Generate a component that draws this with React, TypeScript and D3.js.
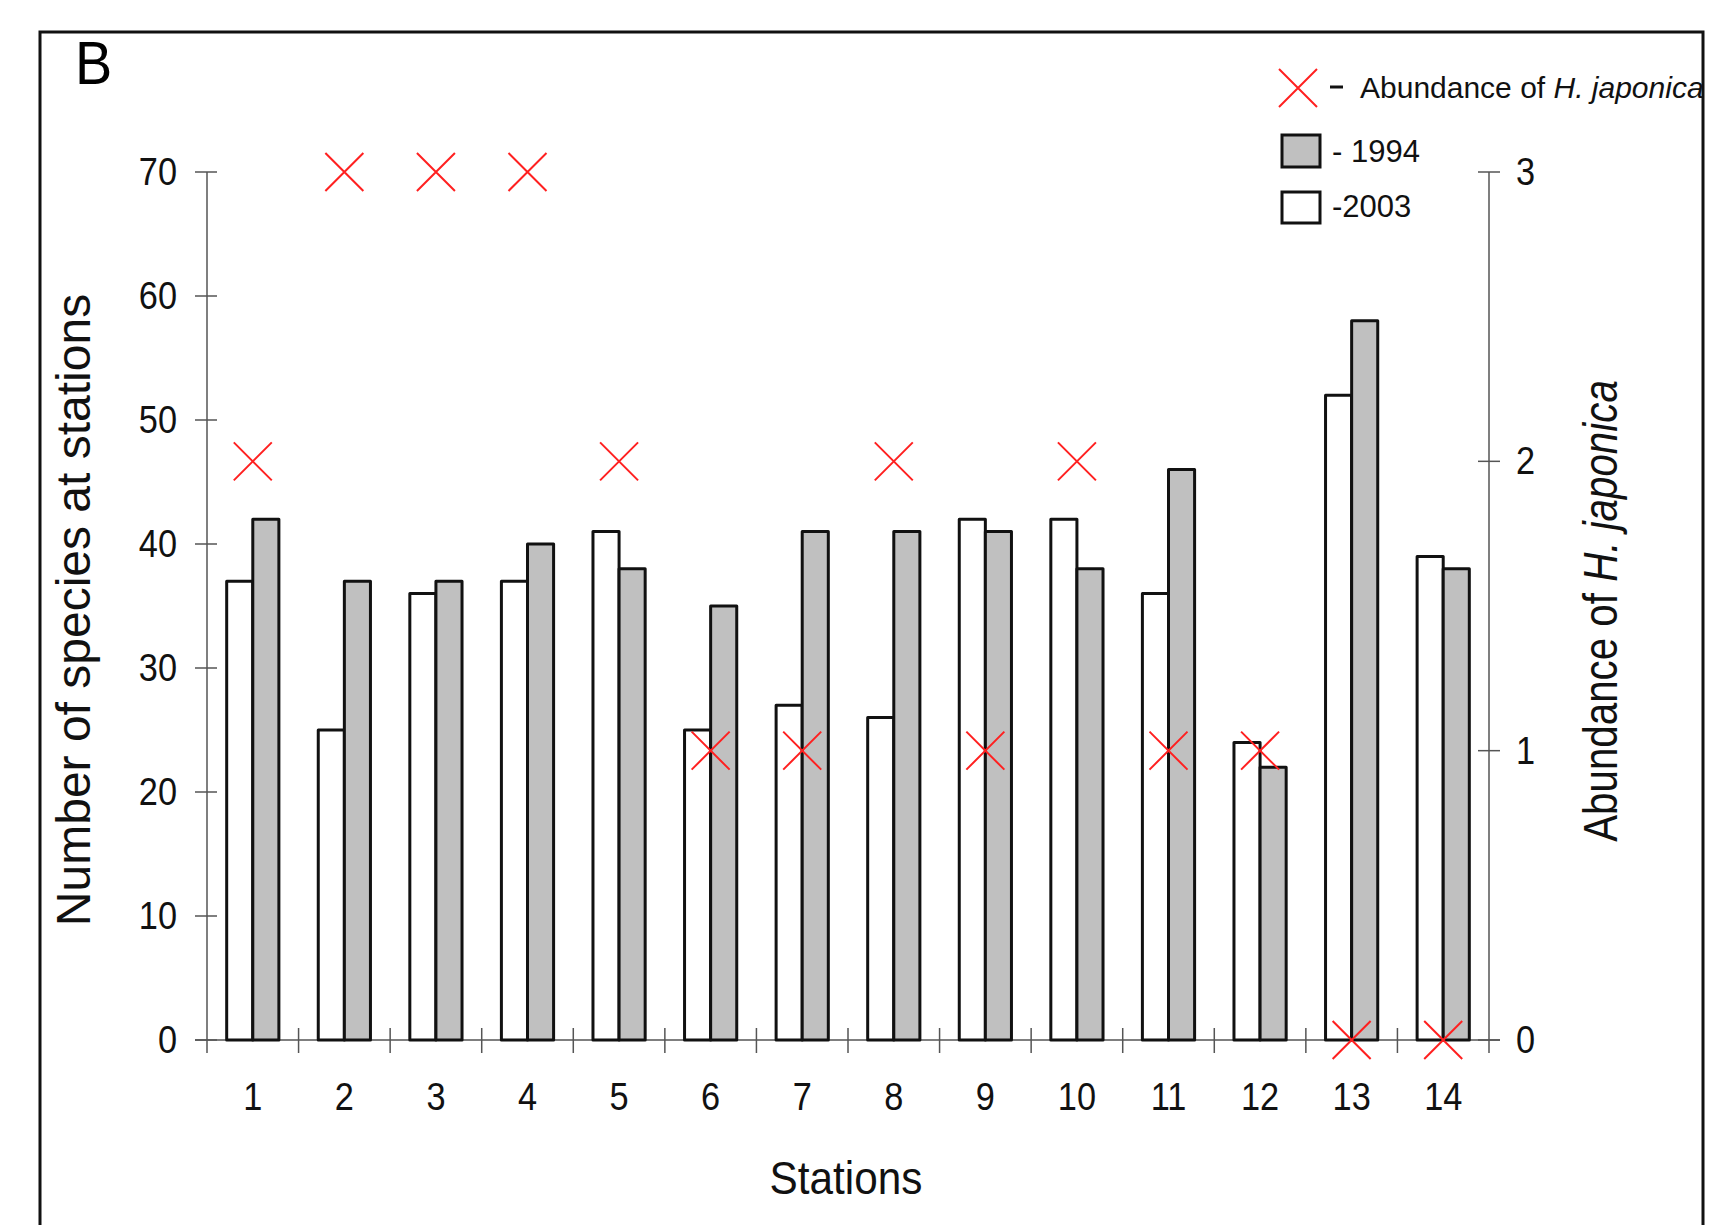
import React, { useEffect, useRef } from "react";
import * as d3 from "d3";

const stations = ["1", "2", "3", "4", "5", "6", "7", "8", "9", "10", "11", "12", "13", "14"];
const species2003 = [37, 25, 36, 37, 41, 25, 27, 26, 42, 42, 36, 24, 52, 39];
const species1994 = [42, 37, 37, 40, 38, 35, 41, 41, 41, 38, 46, 22, 58, 38];
const abundance = [2, 3, 3, 3, 2, 1, 1, 2, 1, 2, 1, 1, 0, 0];
const leftTicks = [0, 10, 20, 30, 40, 50, 60, 70];
const rightTicks = [0, 1, 2, 3];

const W = 1722;
const H = 1225;
const FONT = "'Liberation Sans', Arial, sans-serif";

const App = () => {
  const svgRef = useRef<SVGSVGElement>(null);

  useEffect(() => {
    const svg = d3.select(svgRef.current);
    svg.selectAll("*").remove();

    const plot = { left: 207, right: 1489, top: 172, bottom: 1040 };

    const x = d3.scaleBand().domain(stations).range([plot.left, plot.right]).padding(0);
    const bw = x.bandwidth();
    const inner = d3
      .scaleBand()
      .domain(["2003", "1994"])
      .range([bw * 0.215, bw * 0.785])
      .padding(0);
    const yL = d3.scaleLinear().domain([0, 70]).range([plot.bottom, plot.top]);
    const yR = d3.scaleLinear().domain([0, 3]).range([plot.bottom, plot.top]);

    svg.append("rect").attr("width", W).attr("height", H).attr("fill", "#fff");

    // outer frame
    svg
      .append("rect")
      .attr("x", 40)
      .attr("y", 32)
      .attr("width", 1663)
      .attr("height", 1240)
      .attr("fill", "none")
      .attr("stroke", "#111")
      .attr("stroke-width", 3);

    svg
      .append("text")
      .attr("transform", "translate(75,84) scale(0.9,1)")
      .style("font-family", FONT)
      .style("font-size", "62px")
      .text("B");

    const axisColor = "#555";
    const g = svg.append("g");

    // axes lines
    g.append("line")
      .attr("x1", plot.left).attr("x2", plot.left)
      .attr("y1", plot.top).attr("y2", plot.bottom + 13)
      .attr("stroke", axisColor).attr("stroke-width", 1.5);
    g.append("line")
      .attr("x1", plot.right).attr("x2", plot.right)
      .attr("y1", plot.top).attr("y2", plot.bottom + 13)
      .attr("stroke", axisColor).attr("stroke-width", 1.5);

    // zero baseline
    g.append("line")
      .attr("x1", plot.left - 12).attr("x2", plot.right + 11)
      .attr("y1", plot.bottom).attr("y2", plot.bottom)
      .attr("stroke", axisColor).attr("stroke-width", 1.5);

    // left ticks
    leftTicks.forEach((t) => {
      g.append("line")
        .attr("x1", plot.left - 12).attr("x2", plot.left + 10)
        .attr("y1", yL(t)).attr("y2", yL(t))
        .attr("stroke", axisColor).attr("stroke-width", 1.5);
      g.append("text")
        .attr("transform", `translate(177,${yL(t) + 13}) scale(0.88,1)`)
        .attr("text-anchor", "end")
        .style("font-family", FONT)
        .style("font-size", "39px")
        .attr("fill", "#111")
        .text(t);
    });

    // right ticks
    rightTicks.forEach((t) => {
      g.append("line")
        .attr("x1", plot.right - 11).attr("x2", plot.right + 11)
        .attr("y1", yR(t)).attr("y2", yR(t))
        .attr("stroke", axisColor).attr("stroke-width", 1.5);
      g.append("text")
        .attr("transform", `translate(1516,${yR(t) + 13}) scale(0.88,1)`)
        .attr("text-anchor", "start")
        .style("font-family", FONT)
        .style("font-size", "39px")
        .attr("fill", "#111")
        .text(t);
    });

    // category ticks and labels
    stations.forEach((s, i) => {
      const x0 = x(s) as number;
      if (i > 0) {
        g.append("line")
          .attr("x1", x0).attr("x2", x0)
          .attr("y1", plot.bottom - 12).attr("y2", plot.bottom + 13)
          .attr("stroke", axisColor).attr("stroke-width", 1.5);
      }
      g.append("text")
        .attr("transform", `translate(${x0 + bw / 2},1110) scale(0.88,1)`)
        .attr("text-anchor", "middle")
        .style("font-family", FONT)
        .style("font-size", "39px")
        .attr("fill", "#111")
        .text(s);
    });

    // bars
    const rows = stations.map((s, i) => ({
      s,
      vals: [
        { key: "2003", v: species2003[i], fill: "#ffffff" },
        { key: "1994", v: species1994[i], fill: "#c0c0c0" },
      ],
    }));
    rows.forEach((r) => {
      r.vals.forEach((d) => {
        g.append("rect")
          .attr("x", (x(r.s) as number) + (inner(d.key) as number))
          .attr("y", yL(d.v))
          .attr("width", inner.bandwidth())
          .attr("height", plot.bottom - yL(d.v))
          .attr("fill", d.fill)
          .attr("stroke", "#111")
          .attr("stroke-width", 3)
          .attr("stroke-linejoin", "round");
      });
    });

    // red crosses (abundance)
    const cross = (cx: number, cy: number, r: number) =>
      `M${cx - r},${cy - r}L${cx + r},${cy + r}M${cx - r},${cy + r}L${cx + r},${cy - r}`;
    g.selectAll(".cross")
      .data(abundance)
      .join("path")
      .attr("class", "cross")
      .attr("d", (d, i) => cross((x(stations[i]) as number) + bw / 2, yR(d), 19))
      .attr("stroke", "#ff2020")
      .attr("stroke-width", 2)
      .attr("fill", "none");

    // axis titles
    svg
      .append("text")
      .attr("transform", "translate(90,610) rotate(-90)")
      .attr("text-anchor", "middle")
      .style("font-family", FONT)
      .style("font-size", "48px")
      .attr("fill", "#111")
      .text("Number of species at stations");

    const rt = svg
      .append("text")
      .attr("transform", "translate(1617,611) rotate(-90) scale(0.84,1)")
      .attr("text-anchor", "middle")
      .style("font-family", FONT)
      .style("font-size", "48px")
      .attr("fill", "#111");
    rt.append("tspan").text("Abundance of ");
    rt.append("tspan").style("font-style", "italic").text("H. japonica");

    svg
      .append("text")
      .attr("transform", "translate(846,1194) scale(0.92,1)")
      .attr("text-anchor", "middle")
      .style("font-family", FONT)
      .style("font-size", "46px")
      .attr("fill", "#111")
      .text("Stations");

    // legend
    const lg = svg.append("g");
    lg.append("path")
      .attr("d", cross(1298, 88, 19))
      .attr("stroke", "#ff2020")
      .attr("stroke-width", 2)
      .attr("fill", "none");
    lg.append("line")
      .attr("x1", 1330).attr("x2", 1343)
      .attr("y1", 87).attr("y2", 87)
      .attr("stroke", "#111").attr("stroke-width", 3);
    const lt = lg
      .append("text")
      .attr("x", 1360)
      .attr("y", 98)
      .style("font-family", FONT)
      .style("font-size", "30px")
      .attr("fill", "#111");
    lt.append("tspan").text("Abundance of ");
    lt.append("tspan").style("font-style", "italic").text("H. japonica");

    lg.append("rect")
      .attr("x", 1282).attr("y", 135).attr("width", 38).attr("height", 32)
      .attr("fill", "#c0c0c0").attr("stroke", "#111").attr("stroke-width", 3);
    lg.append("text")
      .attr("x", 1332).attr("y", 162)
      .style("font-family", FONT).style("font-size", "31px").attr("fill", "#111")
      .text("- 1994");
    lg.append("rect")
      .attr("x", 1282).attr("y", 192).attr("width", 38).attr("height", 31)
      .attr("fill", "#fff").attr("stroke", "#111").attr("stroke-width", 3);
    lg.append("text")
      .attr("x", 1332).attr("y", 217)
      .style("font-family", FONT).style("font-size", "31px").attr("fill", "#111")
      .text("-2003");

    return () => {
      svg.selectAll("*").remove();
    };
  }, []);

  return (
    <svg
      ref={svgRef}
      width={W}
      height={H}
      style={{ position: "absolute", left: 0, top: 0, display: "block" }}
    ></svg>
  );
};

export default App;
